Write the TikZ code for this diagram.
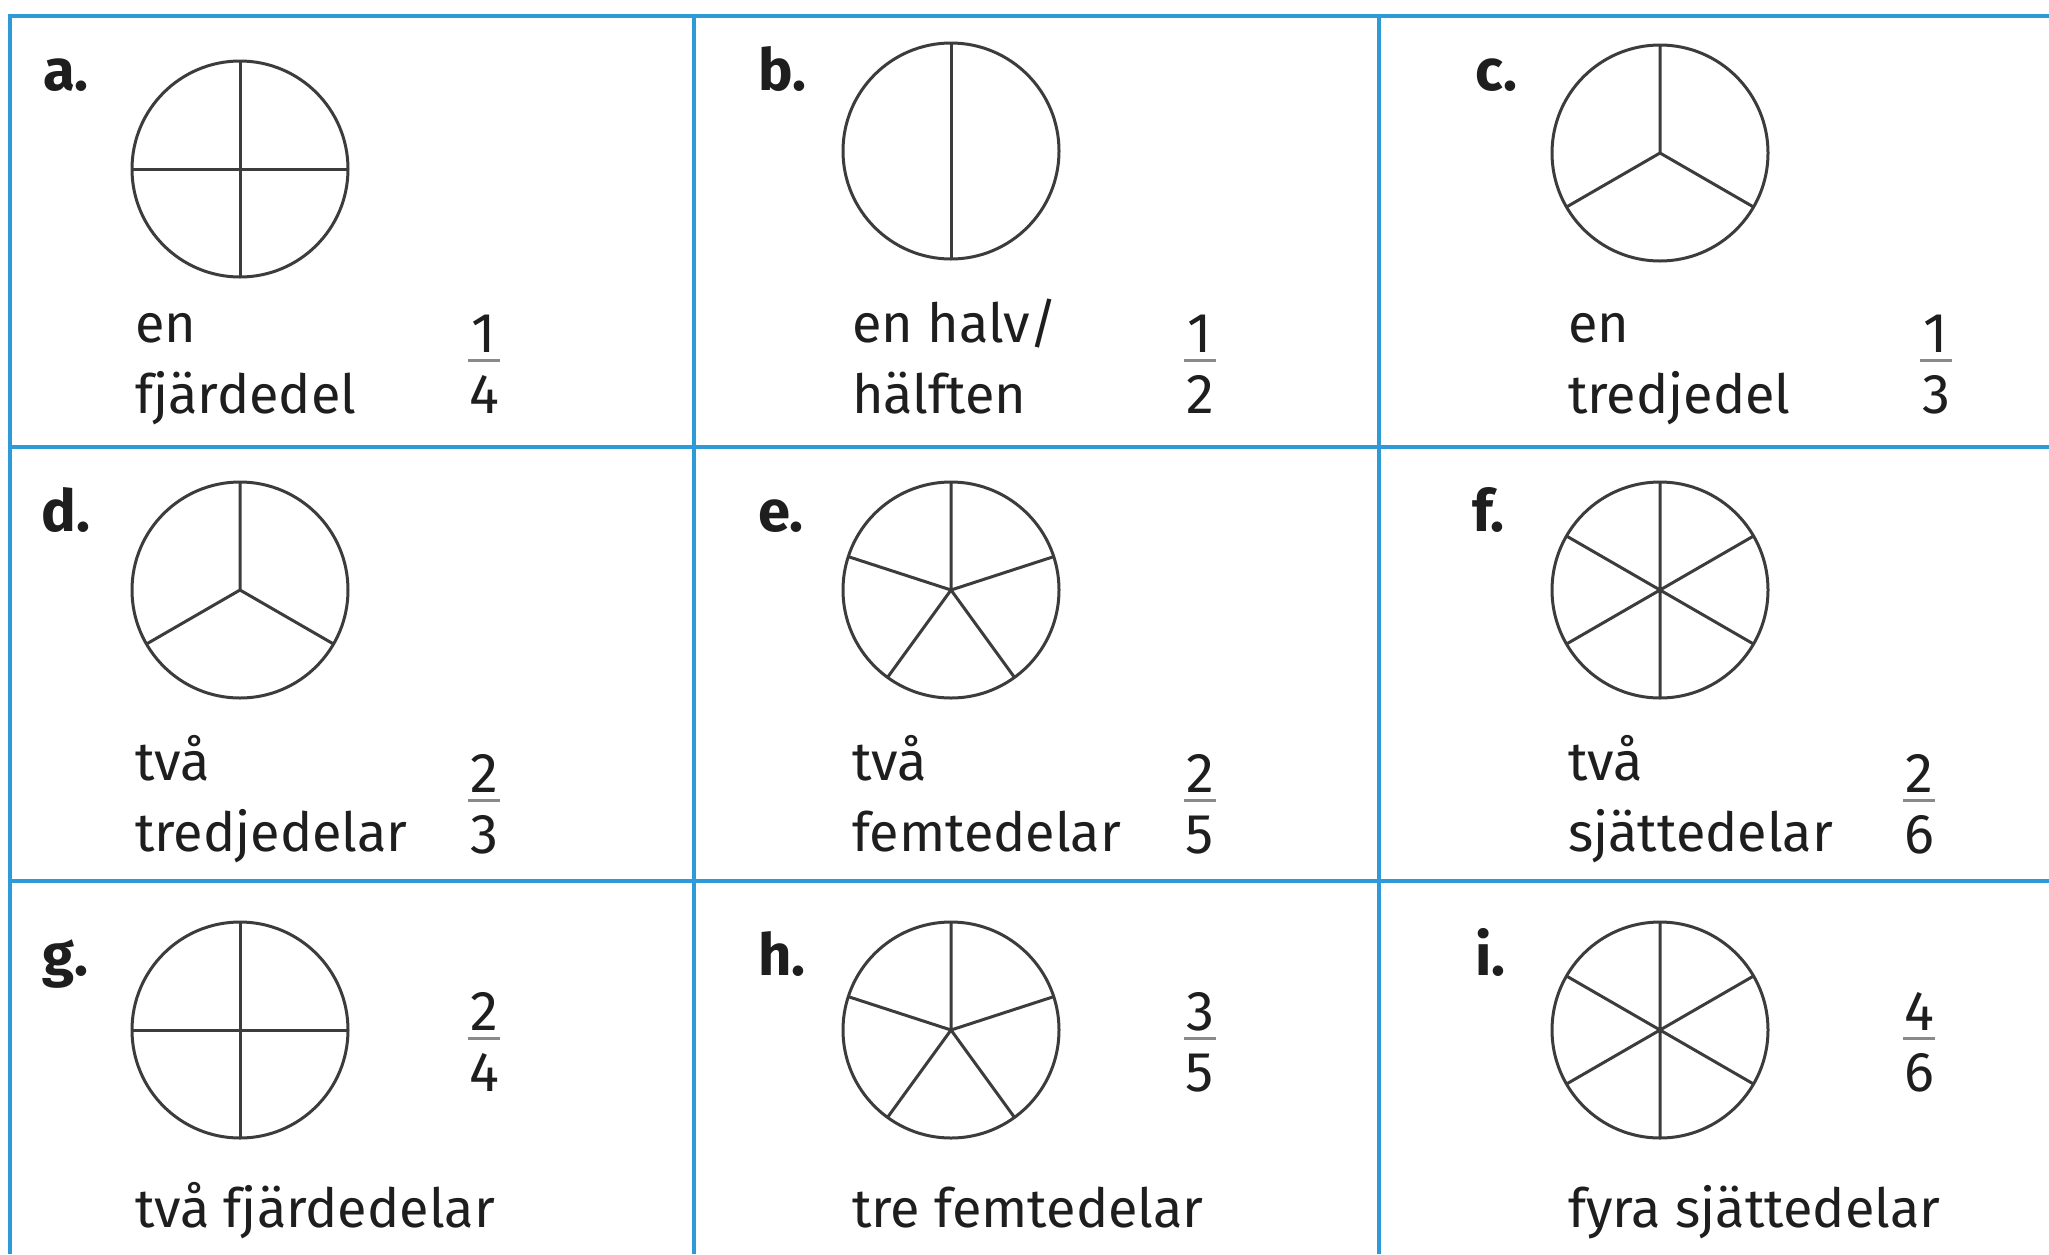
\documentclass[tikz,border=0pt]{standalone}
\usepackage{fontspec}
\setmainfont{Fira Sans}
\definecolor{gridblue}{HTML}{2E9BD8}
\definecolor{ink}{HTML}{3C3C3C}
\definecolor{txt}{HTML}{1E1E1E}
\definecolor{barcol}{HTML}{8A8A8A}
\newcommand\fracmark[5]{%
  \node[digit] (#1n) at (#2,#3-8) {#4};
  \node[digit] (#1d) at (#2,#3+53) {#5};
  \draw[fbar] (#2-16,#3) -- (#2+16,#3);}
\begin{document}
\begin{tikzpicture}[x=1pt,y=-1pt,
  grid/.style={draw=gridblue,line width=4pt},
  pie/.style={circle,draw=ink,line width=3pt,minimum size=216pt,inner sep=0pt,outer sep=0pt},
  spoke/.style={draw=ink,line width=3pt},
  lbl/.style={anchor=base west,inner sep=0pt,font=\fontsize{58}{60}\selectfont\bfseries,text=txt},
  word/.style={anchor=base west,inner sep=0pt,font=\fontsize{54}{60}\selectfont,text=txt},
  digit/.style={anchor=base,inner sep=0pt,font=\fontsize{56}{60}\selectfont,text=txt},
  fbar/.style={draw=barcol,line width=3pt}]
\useasboundingbox[fill=white] (0,0) rectangle (2049,1254);
% grid
\draw[grid] (10,1254) -- (10,16) -- (2049,16);
\draw[grid] (10,447) -- (2049,447);
\draw[grid] (10,881) -- (2049,881);
\draw[grid] (694,16) -- (694,1254);
\draw[grid] (1379,16) -- (1379,1254);
% ---------- row 1 ----------
\node[lbl] (la) at (43,90) {a.};
\node[pie] (pa) at (240,169) {};
\draw[spoke] (pa.north) -- (pa.south) (pa.west) -- (pa.east);
\node[word] (ta1) at (135,342) {en};
\node[word] (ta2) at (135,413) {fjärdedel};
\fracmark{fa}{484}{360}{1}{4}

\node[lbl] (lb) at (758,90) {b.};
\node[pie] (pb) at (951,151) {};
\draw[spoke] (pb.north) -- (pb.south);
\node[word] (tb1) at (852,342) {en halv/};
\node[word] (tb2) at (852,413) {hälften};
\fracmark{fb}{1200}{360}{1}{2}

\node[lbl] (lc) at (1475,90) {c.};
\node[pie] (pc) at (1660,153) {};
\draw[spoke] (pc.center) -- (pc.90) (pc.center) -- (pc.210) (pc.center) -- (pc.330);
\node[word] (tc1) at (1568,342) {en};
\node[word] (tc2) at (1568,413) {tredjedel};
\fracmark{fc}{1936}{360}{1}{3}
% ---------- row 2 ----------
\node[lbl] (ld) at (41,531) {d.};
\node[pie] (pd) at (240,590) {};
\draw[spoke] (pd.center) -- (pd.90) (pd.center) -- (pd.210) (pd.center) -- (pd.330);
\node[word] (td1) at (135,780) {två};
\node[word] (td2) at (135,851) {tredjedelar};
\fracmark{fd}{484}{800}{2}{3}

\node[lbl] (le) at (758,531) {e.};
\node[pie] (pe) at (951,590) {};
\draw[spoke] (pe.center) -- (pe.90) (pe.center) -- (pe.162) (pe.center) -- (pe.234)
  (pe.center) -- (pe.306) (pe.center) -- (pe.18);
\node[word] (te1) at (852,780) {två};
\node[word] (te2) at (852,851) {femtedelar};
\fracmark{fe}{1200}{800}{2}{5}

\node[lbl] (lf) at (1472,531) {f.};
\node[pie] (pf) at (1660,590) {};
\draw[spoke] (pf.north) -- (pf.south) (pf.30) -- (pf.210) (pf.150) -- (pf.330);
\node[word] (tf1) at (1568,780) {två};
\node[word] (tf2) at (1568,851) {sjättedelar};
\fracmark{ff}{1919}{800}{2}{6}
% ---------- row 3 ----------
\node[lbl] (lg) at (42,975) {g.};
\node[pie] (pg) at (240,1030) {};
\draw[spoke] (pg.north) -- (pg.south) (pg.west) -- (pg.east);
\node[word] (tg) at (135,1227) {två fjärdedelar};
\fracmark{fg}{484}{1038}{2}{4}

\node[lbl] (lh) at (758,975) {h.};
\node[pie] (ph) at (951,1030) {};
\draw[spoke] (ph.center) -- (ph.90) (ph.center) -- (ph.162) (ph.center) -- (ph.234)
  (ph.center) -- (ph.306) (ph.center) -- (ph.18);
\node[word] (th) at (852,1227) {tre femtedelar};
\fracmark{fh}{1200}{1038}{3}{5}

\node[lbl] (li) at (1475,975) {i.};
\node[pie] (pi) at (1660,1030) {};
\draw[spoke] (pi.north) -- (pi.south) (pi.30) -- (pi.210) (pi.150) -- (pi.330);
\node[word] (ti) at (1568,1227) {fyra sjättedelar};
\fracmark{fi}{1919}{1038}{4}{6}
\end{tikzpicture}
\end{document}
